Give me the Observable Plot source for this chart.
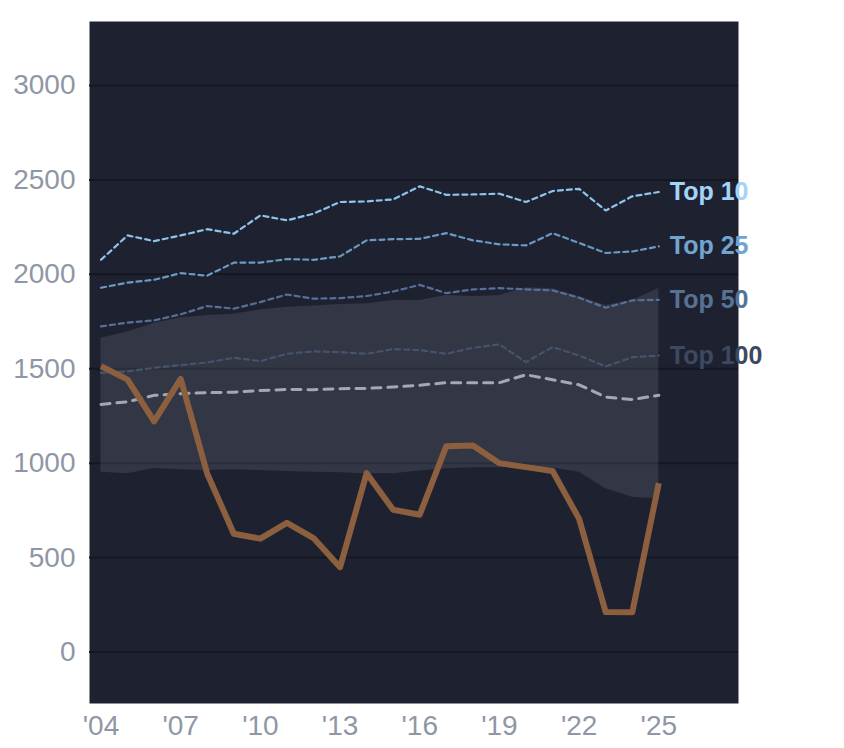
<!DOCTYPE html>
<html>
<head>
<meta charset="utf-8">
<script src="https://cdn.jsdelivr.net/npm/d3@7"></script>
<script src="https://cdn.jsdelivr.net/npm/@observablehq/plot@0.6"></script>
<style>
  html, body { margin: 0; padding: 0; background: #ffffff; }
  #chart { width: 844px; height: 748px; }
</style>
</head>
<body>
<div id="chart"></div>
<script>
const years = [2004,2005,2006,2007,2008,2009,2010,2011,2012,2013,2014,2015,2016,2017,2018,2019,2020,2021,2022,2023,2024,2025];

const top10  = [2077,2206,2176,2206,2239,2215,2312,2286,2321,2383,2386,2397,2466,2421,2423,2427,2383,2441,2453,2338,2413,2436];
const top25  = [1929,1956,1971,2006,1993,2062,2062,2081,2077,2095,2180,2186,2188,2218,2180,2159,2153,2218,2166,2113,2121,2148];
const top50  = [1724,1744,1756,1788,1832,1818,1853,1893,1871,1874,1885,1909,1944,1900,1920,1927,1920,1915,1876,1823,1862,1865];
const top100 = [1478,1486,1505,1519,1533,1558,1540,1579,1592,1588,1579,1604,1599,1579,1611,1629,1535,1615,1570,1512,1561,1570];
const median = [1311,1325,1359,1368,1373,1376,1385,1390,1389,1394,1396,1403,1413,1426,1426,1426,1468,1442,1415,1350,1337,1359];
const bandHi = [1662,1694,1741,1770,1782,1788,1812,1826,1832,1840,1844,1862,1862,1888,1883,1888,1929,1924,1883,1835,1862,1925];
const bandLo = [952,944,972,965,961,965,961,956,952,949,944,944,958,970,975,975,979,974,952,864,820,811];
const team   = [1514,1442,1221,1446,944,626,600,684,603,449,947,753,727,1090,1094,1000,979,958,705,211,210,894];

const seriesNames = ["Top 10","Top 25","Top 50","Top 100"];
const yTicks = [0,500,1000,1500,2000,2500,3000];
const xTicks = [2004,2007,2010,2013,2016,2019,2022,2025];

const lineColors  = {"Top 10":"#8ec4ec","Top 25":"#6a9ac4","Top 50":"#56709a","Top 100":"#46536d"};
const labelColors = {"Top 10":"#a3d3f8","Top 25":"#72a4d0","Top 50":"#587294","Top 100":"#3d4960"};

const tiers = {"Top 10": top10, "Top 25": top25, "Top 50": top50, "Top 100": top100};
const tierRows = seriesNames.flatMap(name => years.map((year, i) => ({name, year, value: tiers[name][i]})));
const bandRows = years.map((year, i) => ({year, lo: bandLo[i], hi: bandHi[i]}));
const medianRows = years.map((year, i) => ({year, value: median[i]}));
const teamRows = years.map((year, i) => ({year, value: team[i]}));
const labelRows = seriesNames.map(name => ({name, year: years[years.length - 1], value: tiers[name][years.length - 1]}));

const tickColor = "#8f97a6";

const chart = Plot.plot({
  width: 844,
  height: 748,
  marginLeft: 89,
  marginRight: 106,
  marginTop: 21,
  marginBottom: 45,
  style: { fontFamily: "'Liberation Sans', Arial, Helvetica, sans-serif", background: "#ffffff", overflow: "visible" },
  x: { domain: [2003.567, 2028] },
  y: { domain: [-273, 3339] },
  marks: [
    Plot.frame({ fill: "#1e2230", stroke: null }),
    Plot.ruleY(yTicks, { stroke: "#141722", strokeWidth: 2 }),
    Plot.areaY(bandRows, { x: "year", y1: "lo", y2: "hi", fill: "#828699", fillOpacity: 0.2 }),
    Plot.lineY(medianRows, { x: "year", y: "value", stroke: "#a3a9b3", strokeWidth: 3, strokeDasharray: "9,7" }),
    ...seriesNames.map(name =>
      Plot.lineY(tierRows.filter(d => d.name === name), {
        x: "year", y: "value", stroke: lineColors[name], strokeWidth: 2.2, strokeDasharray: "5,4"
      })
    ),
    Plot.lineY(teamRows, { x: "year", y: "value", stroke: "#8c5f3e", strokeWidth: 6, strokeLinejoin: "round", strokeLinecap: "butt" }),
    Plot.text(labelRows, {
      x: "year", y: "value", text: "name", dx: 11, textAnchor: "start",
      fill: d => labelColors[d.name], fontSize: 25, fontWeight: "bold"
    }),
    Plot.axisY({ ticks: yTicks, tickSize: 0, tickPadding: 14, fontSize: 28, fill: tickColor, tickFormat: d => String(d), label: null }),
    Plot.axisX({ ticks: xTicks, tickSize: 0, tickPadding: 12, fontSize: 28, fill: tickColor, tickFormat: d => "'" + String(d).slice(2), label: null })
  ]
});

document.getElementById("chart").appendChild(chart);
</script>
</body>
</html>
